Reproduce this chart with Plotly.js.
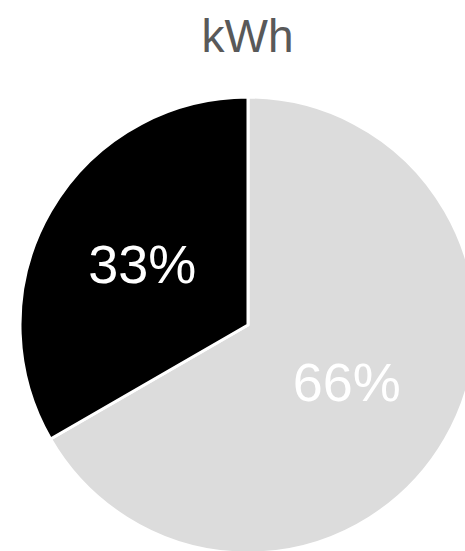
<!DOCTYPE html>
<html>
<head>
<meta charset="utf-8">
<script src="https://cdn.plot.ly/plotly-3.0.1.min.js"></script>
<style>
html,body{margin:0;padding:0;overflow:hidden;background:#fff;width:465px;height:551px;}
#chart{width:476px;height:553px;}
</style>
</head>
<body>
<div id="chart"></div>
<script>
const labels = ["Other", "kWh share"];
const values = [66, 33];
const sliceColors = ["#dcdcdc", "#000000"];
const chartTitle = "kWh";

Plotly.newPlot("chart", [{
  type: "pie",
  labels: labels,
  values: values,
  sort: false,
  direction: "clockwise",
  rotation: 0,
  marker: {colors: sliceColors, line: {color: "#ffffff", width: 3}},
  texttemplate: "%{value}%",
  textposition: "inside",
  insidetextorientation: "horizontal",
  textfont: {family: "Liberation Sans, Arial, sans-serif", size: 54, color: "#ffffff"},
  hoverinfo: "none",
  showlegend: false
}], {
  width: 476,
  height: 553,
  margin: {l: 20, r: 0, t: 97, b: 0},
  paper_bgcolor: "#ffffff",
  title: {text: chartTitle, x: 0.52, xanchor: "center", y: 0.935, yanchor: "middle",
          font: {family: "Liberation Sans, Arial, sans-serif", size: 46, color: "#595959"}},
  showlegend: false
}, {displayModeBar: false, staticPlot: true});
</script>
</body>
</html>
